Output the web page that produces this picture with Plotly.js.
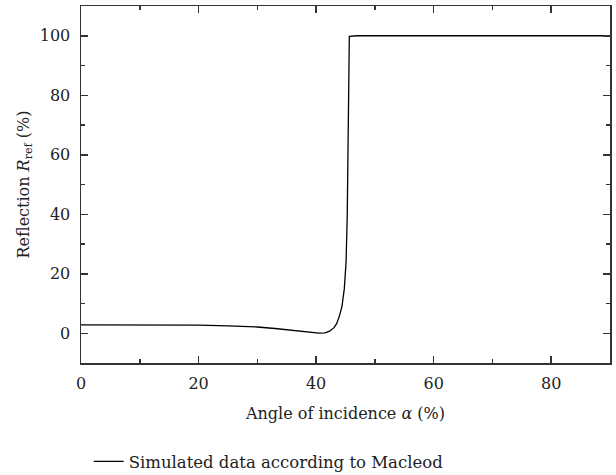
<!DOCTYPE html>
<html>
<head>
<meta charset="utf-8">
<script src="https://cdn.plot.ly/plotly-3.0.1.min.js"></script>
<style>html,body{margin:0;padding:0;background:#fff;}#chart{width:616px;height:475px;}</style>
</head>
<body>
<div id="chart"></div>
<script>
// Angle of incidence (deg)
const angle = [0, 5, 10, 15, 20, 25, 28, 30, 33, 36, 38, 39.5, 40.5, 41.5, 42.3, 43, 43.5, 44, 44.4, 44.8, 45.1, 45.3, 45.45, 45.55, 45.65, 47, 50, 60, 70, 80, 90];
// Reflection R_ref (%)
const reflection = [2.8, 2.8, 2.8, 2.8, 2.7, 2.5, 2.3, 2.1, 1.6, 1.0, 0.5, 0.2, 0.05, 0.15, 0.7, 1.8, 3.2, 6.0, 9.0, 15, 24, 40, 65, 90, 99.8, 100, 100, 100, 100, 100, 100];
const seriesName = 'Simulated data according to Macleod';

const fam = 'DejaVu Serif';
const tickFont = {family: fam, size: 16, color: '#222'};
const titleFont = {family: fam, size: 16, color: '#222'};
const legendFont = {family: fam, size: 16.5, color: '#222'};

const trace = {
  x: angle, y: reflection, type: 'scatter', mode: 'lines',
  name: seriesName,
  line: {color: '#000', width: 1.3},
  showlegend: true
};

const axisCommon = {
  showline: true, linecolor: '#333', linewidth: 1.5,
  mirror: 'ticks', ticks: 'inside', ticklen: 7, tickwidth: 1.5, tickcolor: '#333',
  showgrid: false, zeroline: false,
  tickfont: tickFont, automargin: false,
  minor: {ticks: 'inside', ticklen: 4, tickwidth: 1.5, tickcolor: '#333', dtick: 10, showgrid: false}
};

const layout = {
  width: 616, height: 475,
  margin: {l: 81, r: 6, t: 6, b: 112, autoexpand: false},
  paper_bgcolor: '#fff', plot_bgcolor: '#fff',
  font: tickFont,
  showlegend: true,
  xaxis: Object.assign({}, axisCommon, {
    range: [0, 90], tick0: 0, dtick: 20,
    ticklabelstandoff: 5,
    title: {text: 'Angle of incidence <i>α</i> (%)', font: titleFont, standoff: 16}
  }),
  yaxis: Object.assign({}, axisCommon, {
    range: [-10, 110], tick0: 0, dtick: 20,
    ticklabelstandoff: 6,
    title: {text: 'Reflection <i>R</i><sub>ref</sub> (%)', font: titleFont, standoff: 6}
  }),
  legend: {
    orientation: 'h', xref: 'container', yref: 'container',
    x: 0.144, xanchor: 'left', y: 0.028, yanchor: 'middle',
    font: legendFont, bgcolor: 'rgba(0,0,0,0)'
  }
};

Plotly.newPlot('chart', [trace], layout, {displayModeBar: false, staticPlot: true});
</script>
</body>
</html>
